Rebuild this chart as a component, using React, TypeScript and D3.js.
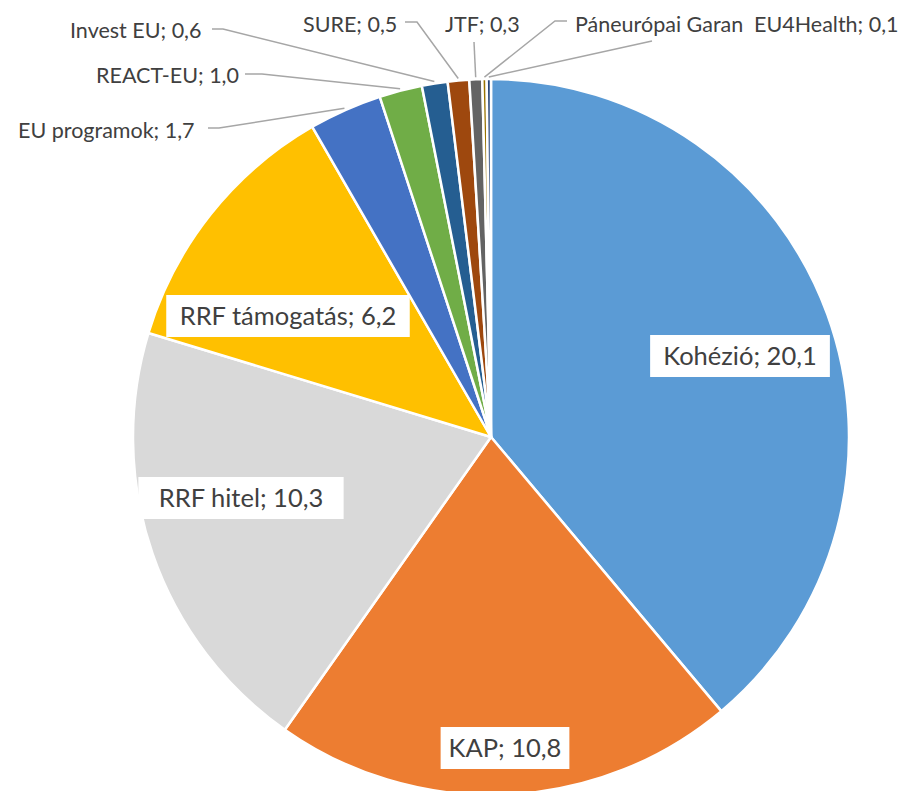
import React from "react";
import * as d3 from "d3";

// EU funds by source (billion EUR)
const categories = [
  "Kohézió",
  "KAP",
  "RRF hitel",
  "RRF támogatás",
  "EU programok",
  "REACT-EU",
  "Invest EU",
  "SURE",
  "JTF",
  "Páneurópai Garanciaalap",
  "EU4Health",
];
const values = [20.1, 10.8, 10.3, 6.2, 1.7, 1.0, 0.6, 0.5, 0.3, 0.1, 0.1];
const colors = [
  "#5B9BD5",
  "#ED7D31",
  "#D9D9D9",
  "#FFC000",
  "#4472C4",
  "#70AD47",
  "#255E91",
  "#9E480E",
  "#636363",
  "#997300",
  "#264478",
];

const W = 903;
const H = 791;
const cx = 491;
const cy = 437;
const R = 358;
const FONT = "Lato, 'Open Sans', sans-serif";
const TEXT = "#404040";
const LINE = "#A6A6A6";

const fmt = d3.formatLocale({ decimal: ",", thousands: " ", grouping: [3], currency: ["", ""] }).format(".1f");

// label boxes drawn on the slices: center of box
const insideLabels: Record<string, [number, number]> = {
  "Kohézió": [740, 356],
  "KAP": [505, 748],
  "RRF hitel": [241, 498],
  "RRF támogatás": [288, 316],
};

// outside labels: text x, y, leader elbow points; cut = label hidden behind the neighbour label
const outsideLabels: Record<string, { x: number; y: number; pts: [number, number][]; cut?: number }> = {
  "EU programok": { x: 18, y: 130, pts: [[208, 128], [219, 128]] },
  "REACT-EU": { x: 96, y: 75, pts: [[245, 74], [262, 74]] },
  "Invest EU": { x: 70, y: 30, pts: [[212, 29], [223, 29]] },
  "SURE": { x: 303, y: 24, pts: [[405, 22], [417, 22]] },
  "JTF": { x: 445, y: 24, pts: [[474, 42]] },
  "Páneurópai Garanciaalap": { x: 575, y: 24, pts: [[567, 21], [555, 21]], cut: 16 },
  "EU4Health": { x: 754, y: 24, pts: [[652, 41]] },
};

export default function App() {
  const data = categories.map((c, i) => ({ name: c, value: values[i], color: colors[i] }));
  const pie = d3.pie<any>().sort(null).value((d) => d.value);
  const arcs = pie(data);
  const arc = d3.arc<any>().innerRadius(0).outerRadius(R);
  const edge = d3.arc<any>().innerRadius(R + 2).outerRadius(R + 2);

  return (
    <svg width={W} height={H} style={{ position: "absolute", left: 0, top: 0, background: "#fff" }}>
      <g transform={`translate(${cx},${cy})`}>
        {arcs.map((a, i) => (
          <path key={i} d={arc(a) as string} fill={a.data.color} stroke="#fff" strokeWidth={2.5} strokeLinejoin="round" />
        ))}
      </g>

      {/* leader lines + outside labels */}
      {arcs.map((a, i) => {
        const lab = outsideLabels[a.data.name];
        if (!lab) return null;
        const [ex, ey] = edge.centroid(a);
        const pts = [...lab.pts, [ex + cx, ey + cy]];
        const line = d3.line()(pts as [number, number][]);
        const full = `${a.data.name}; ${fmt(a.data.value)}`;
        const label = lab.cut ? full.slice(0, lab.cut) : full;
        return (
          <g key={"o" + i}>
            <path d={line as string} fill="none" stroke={LINE} strokeWidth={1.5} />
            <text x={lab.x} y={lab.y} dy="0.35em" fontFamily={FONT} fontSize={21.5} fill={TEXT}>
              {label}
            </text>
          </g>
        );
      })}

      {/* labels on the slices */}
      {arcs.map((a, i) => {
        const pos = insideLabels[a.data.name];
        if (!pos) return null;
        const label = `${a.data.name}; ${fmt(a.data.value)}`;
        const fs = 25.5;
        const w = label.length * fs * 0.5 + 14;
        return (
          <g key={"i" + i}>
            <rect x={pos[0] - w / 2} y={pos[1] - 21} width={w} height={42} fill="#fff" />
            <text
              x={pos[0]}
              y={pos[1]}
              dy="0.35em"
              textAnchor="middle"
              fontFamily={FONT}
              fontSize={fs}
              fill={TEXT}
            >
              {label}
            </text>
          </g>
        );
      })}
    </svg>
  );
}
